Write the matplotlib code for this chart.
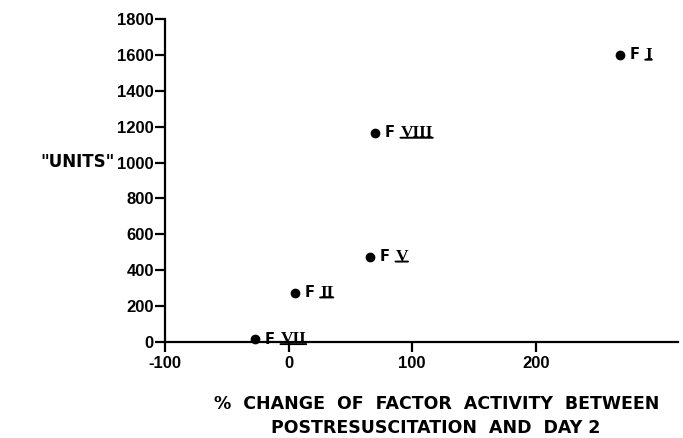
import matplotlib
matplotlib.use("Agg")
import matplotlib.pyplot as plt

# data
numerals = ["I", "VIII", "V", "II", "VII"]
pct_change = [268, 70, 66, 5, -27]
units = [1600, 1165, 475, 275, 15]

x_ticks = [-100, 0, 100, 200]
y_ticks = list(range(0, 1801, 200))

plt.rcParams.update({
    "font.family": ["DejaVu Sans"],
    "font.weight": "bold",
    "font.size": 10.5,
})

fig = plt.figure(figsize=(6.83, 4.38), dpi=100)
ax = fig.add_axes([165 / 683, 1 - 342 / 438, (678 - 165) / 683, (342 - 19) / 438])

ax.scatter(pct_change, units, s=36, color="black", zorder=3, clip_on=False)
for num, x, y in zip(numerals, pct_change, units):
    f_txt = ax.annotate("F", (x, y), xytext=(7, 0), textcoords="offset points",
                        va="center", ha="left", fontsize=10.5, fontweight="bold")
    n_txt = ax.annotate(num, xy=(1, 0.5), xycoords=f_txt, xytext=(4, 0),
                        textcoords="offset points", va="center", ha="left",
                        fontsize=12.5, fontweight="bold", family="Liberation Serif")
    # underline under the roman numeral, as in the original lettering
    ax.annotate("", xy=(1, 0.2), xycoords=n_txt, xytext=(0, 0.2),
                textcoords=n_txt,
                arrowprops=dict(arrowstyle="-", lw=1.4, color="black",
                                shrinkA=0, shrinkB=0))

ax.set_xlim(-100, 315)
ax.set_ylim(0, 1800)
tick_font = dict(family="Liberation Sans", fontweight="bold", fontsize=12)
ax.set_xticks(x_ticks, [str(v) for v in x_ticks], **tick_font)
ax.set_yticks(y_ticks, [str(v) for v in y_ticks], **tick_font)
for s in ("top", "right"):
    ax.spines[s].set_visible(False)
for s in ("left", "bottom"):
    ax.spines[s].set_linewidth(1.6)
ax.tick_params(axis="both", direction="out", width=1.6)
ax.tick_params(axis="y", length=7, pad=1)
ax.tick_params(axis="x", length=7, pad=3)

fig.text(78 / 683, 1 - 162 / 438, '"UNITS"', ha="center", va="center",
         fontsize=12, fontweight="bold")
fig.text(437 / 683, 1 - 404 / 438, "%  CHANGE  OF  FACTOR  ACTIVITY  BETWEEN",
         ha="center", va="center", fontsize=12.5, fontweight="bold")
fig.text(436 / 683, 1 - 428 / 438, "POSTRESUSCITATION  AND  DAY 2",
         ha="center", va="center", fontsize=12.5, fontweight="bold")

fig.savefig("out.png", dpi=100, facecolor="white")
